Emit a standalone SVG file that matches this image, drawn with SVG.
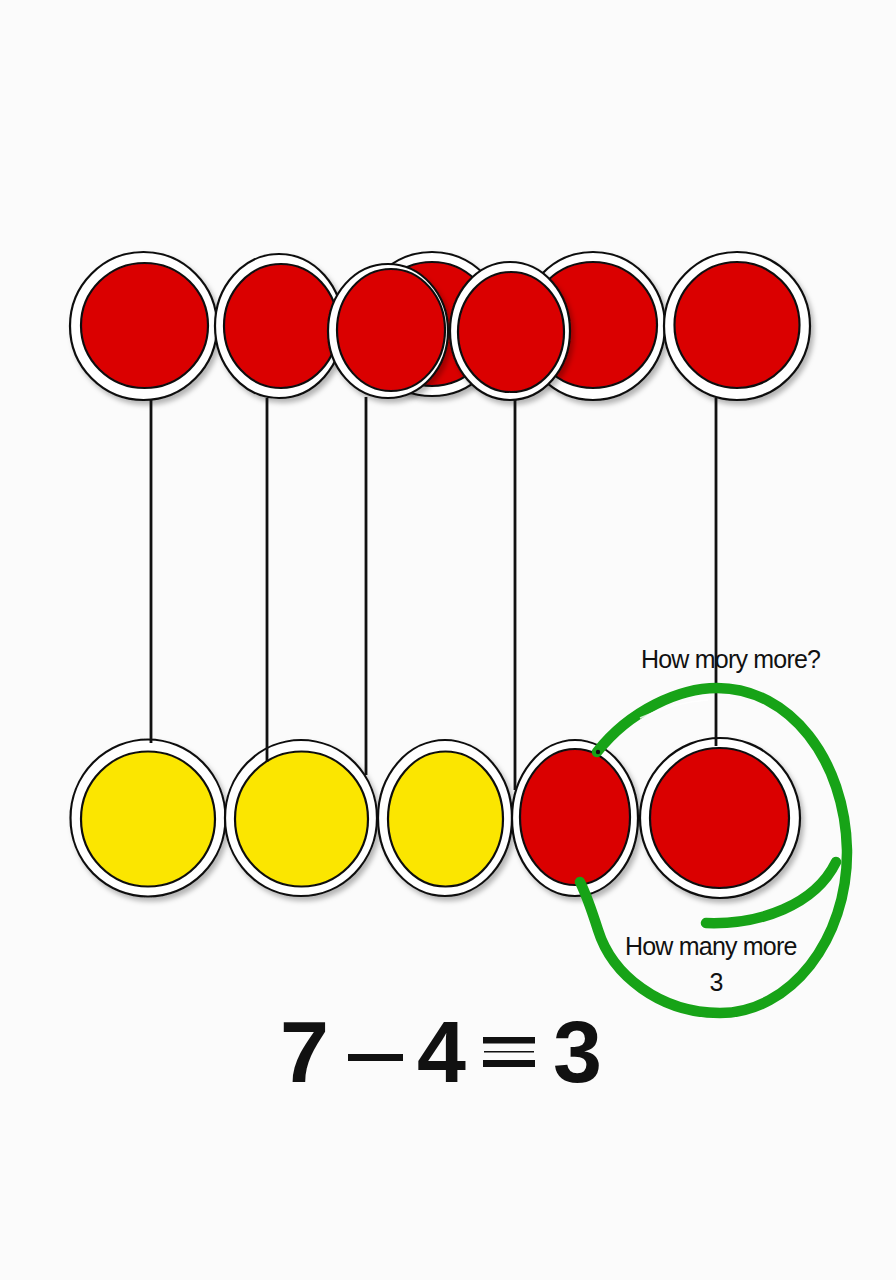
<svg xmlns="http://www.w3.org/2000/svg" width="896" height="1280" viewBox="0 0 896 1280">
<defs>
<filter id="sh" x="-20%" y="-20%" width="150%" height="150%">
<feDropShadow dx="3" dy="4" stdDeviation="2.5" flood-color="#000" flood-opacity="0.28"/>
</filter>
<style>
.ring{fill:#ffffff;stroke:#111;stroke-width:2.2}
.red{fill:#da0006;stroke:#111;stroke-width:2.2}
.yel{fill:#fbe600;stroke:#111;stroke-width:2.2}
.ln{stroke:#111;stroke-width:2.8;fill:none}
.loop{stroke:#17a317;stroke-width:10.5;fill:none;stroke-linecap:round}
.lbl{font-family:"Liberation Sans",Arial,sans-serif;font-size:25px;fill:#111;letter-spacing:-0.8px}
.eq{font-family:"Liberation Sans",Arial,sans-serif;font-weight:bold;font-size:88px;fill:#111}
</style>
</defs>
<rect width="896" height="1280" fill="#fbfbfb"/>

<g id="top-row">
<g id="t1" filter="url(#sh)"><ellipse class="ring" cx="143.5" cy="326" rx="73.5" ry="74"/><ellipse class="red" cx="144.5" cy="325.5" rx="63.5" ry="62.5"/></g>
<g id="t2" filter="url(#sh)"><ellipse class="ring" cx="279" cy="326" rx="64" ry="72"/><ellipse class="red" cx="281" cy="326" rx="57" ry="62"/></g>
<g id="t4" filter="url(#sh)"><ellipse class="ring" cx="432" cy="324" rx="72" ry="72"/><ellipse class="red" cx="432" cy="324" rx="62" ry="62"/></g>
<g id="t3" filter="url(#sh)"><ellipse class="ring" cx="388" cy="331" rx="60" ry="67"/><ellipse class="red" cx="391" cy="330" rx="54" ry="61"/></g>
<g id="t6" filter="url(#sh)"><ellipse class="ring" cx="593" cy="326" rx="72" ry="74"/><ellipse class="red" cx="593" cy="325" rx="64" ry="63"/></g>
<g id="t5" filter="url(#sh)"><ellipse class="ring" cx="510" cy="331" rx="60" ry="69"/><ellipse class="red" cx="511" cy="332" rx="53" ry="60"/></g>
<g id="t7" filter="url(#sh)"><ellipse class="ring" cx="737" cy="326" rx="73" ry="74"/><ellipse class="red" cx="737" cy="325" rx="62.5" ry="63"/></g>
</g>

<g id="bottom-row">
<g id="b1" filter="url(#sh)"><ellipse class="ring" cx="148" cy="818" rx="77.5" ry="78.5"/><ellipse class="yel" cx="148" cy="819" rx="67" ry="67.5"/></g>
<g id="b2" filter="url(#sh)"><ellipse class="ring" cx="301" cy="818" rx="76" ry="78"/><ellipse class="yel" cx="301.5" cy="819" rx="66.5" ry="67.5"/></g>
<g id="b3" filter="url(#sh)"><ellipse class="ring" cx="445" cy="818" rx="67" ry="78"/><ellipse class="yel" cx="445.5" cy="819" rx="57.5" ry="67.5"/></g>
<g id="b4" filter="url(#sh)"><ellipse class="ring" cx="575" cy="818" rx="63" ry="78"/><ellipse class="red" cx="575" cy="817" rx="55" ry="68"/></g>
<g id="b5" filter="url(#sh)"><ellipse class="ring" cx="720" cy="818" rx="80" ry="80"/><ellipse class="red" cx="719.5" cy="818" rx="69.5" ry="70"/></g>
</g>

<g id="connectors">
<line class="ln" x1="151" y1="399" x2="151" y2="743"/>
<line class="ln" x1="267" y1="398" x2="267" y2="762"/>
<line class="ln" x1="366" y1="397" x2="366" y2="775"/>
<line class="ln" x1="515" y1="399" x2="515" y2="790"/>
<line class="ln" x1="716" y1="398" x2="716" y2="746"/>
</g>

<g id="loop">
<path class="loop" d="M 597 752 C 630 710, 680 688, 717 688 C 790 688, 845 760, 847 850 C 848 940, 790 1013, 720 1013 C 660 1013, 612 975, 598 930 C 590 905, 584 890, 580 882"/>
<path class="loop" d="M 706 923 C 760 925, 815 905, 836 862" stroke="#1db41d"/>
<path d="M 640 718 Q 675 702 708 700" stroke="#ffffff" stroke-width="1.5" fill="none" opacity="0.8"/>
<circle cx="598" cy="752" r="2.2" fill="#111"/>
</g>

<g id="labels">
<text class="lbl" x="641" y="668">How mory more?</text>
<text class="lbl" x="625" y="955">How many more</text>
<text class="lbl" x="716" y="991" text-anchor="middle" letter-spacing="0">3</text>
</g>

<g id="equation">
<text class="eq" x="280" y="1082">7</text>
<rect x="348" y="1054" width="55" height="7" fill="#111"/>
<text class="eq" x="417" y="1082">4</text>
<rect x="483" y="1037" width="52" height="6.5" fill="#111"/>
<rect x="484" y="1051" width="50" height="1.5" fill="#111"/>
<rect x="483" y="1060" width="52" height="7" fill="#111"/>
<text class="eq" x="553" y="1082">3</text>
</g>
</svg>
